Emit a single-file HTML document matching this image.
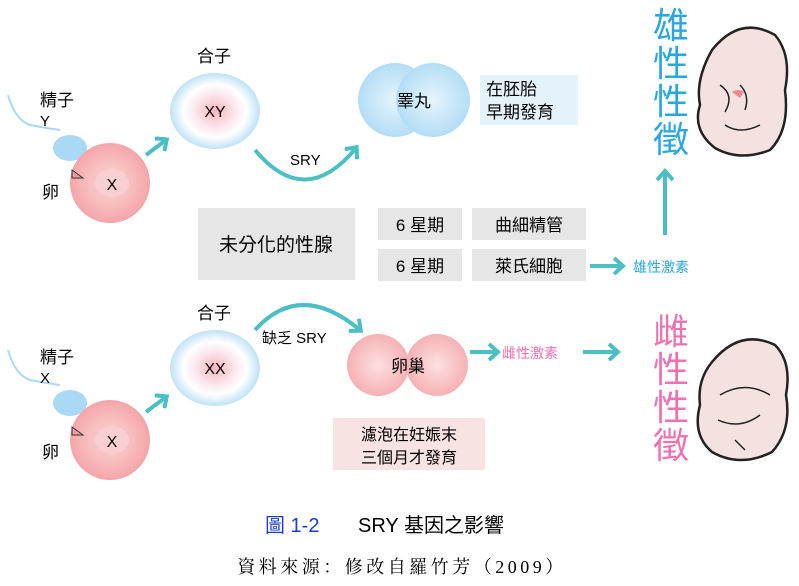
<!DOCTYPE html>
<html><head><meta charset="utf-8"><style>
body{margin:0;background:#fff;width:799px;height:581px;overflow:hidden;font-family:"Liberation Sans","Noto Sans CJK TC",sans-serif}
svg text{font-family:"Liberation Sans","Noto Sans CJK TC",sans-serif}
</style></head><body>
<svg width="799" height="581" viewBox="0 0 799 581">
<defs>
<radialGradient id="zy"><stop offset="0" stop-color="#f7b6bc"/><stop offset="0.45" stop-color="#fbe8ee"/><stop offset="0.7" stop-color="#ffffff"/><stop offset="1" stop-color="#bfe2f7"/></radialGradient>
<radialGradient id="egg"><stop offset="0" stop-color="#fbd3d4"/><stop offset="0.5" stop-color="#f8c0c2"/><stop offset="1" stop-color="#f4a5a9"/></radialGradient>
<radialGradient id="blu" cx="0.5" cy="0.5" r="0.6"><stop offset="0" stop-color="#e6f4fc"/><stop offset="1" stop-color="#a9d9f4"/></radialGradient>
<radialGradient id="pnk" cx="0.5" cy="0.5" r="0.6"><stop offset="0" stop-color="#fde0e1"/><stop offset="1" stop-color="#f4a8ab"/></radialGradient>
<marker id="ah" markerWidth="16" markerHeight="18" refX="9" refY="9" orient="auto" markerUnits="userSpaceOnUse"><path d="M1,1 L10,9 L1,17" fill="none" stroke="#4bbfc4" stroke-width="4"/></marker>
</defs>
<g stroke="#4bbfc4" stroke-width="4" fill="none" marker-end="url(#ah)">
<path d="M146,155 L166,140"/>
<path d="M146,412 L166,397"/>
<path d="M255,150 Q305,210 356,148"/>
<path d="M255,330 Q300,280 360,330"/>
<path d="M590,266 L622,266"/>
<path d="M665,235 L665,172"/>
<path d="M470,352 L497,352"/>
<path d="M583,352 L617,352"/>
</g>
<text x="197" y="62" font-size="17">合子</text>
<ellipse cx="215" cy="111" rx="45" ry="38" fill="url(#zy)"/>
<text x="215" y="117" font-size="16" text-anchor="middle">XY</text>
<path d="M8,95 Q15,120 30,125 Q45,128 60,130" stroke="#a9d9f4" stroke-width="2" fill="none"/>
<ellipse cx="70" cy="148" rx="17" ry="13" fill="#a9d9f4"/>
<text x="40" y="106" font-size="17">精子</text><text x="40" y="126" font-size="15">Y</text>
<circle cx="110" cy="183" r="40" fill="url(#egg)"/>
<ellipse cx="112" cy="183" rx="17" ry="14" fill="#f9cfd1"/>
<text x="112" y="190" font-size="16" text-anchor="middle">X</text>
<text x="42" y="198" font-size="17">卵</text>
<path d="M72,170 L83,178 L72,178Z" fill="#f39a9e" stroke="#333"/>
<text x="290" y="165" font-size="15">SRY</text>
<circle cx="395" cy="100" r="37" fill="url(#blu)"/><circle cx="433" cy="100" r="37" fill="url(#blu)"/>
<text x="414" y="107" font-size="17" text-anchor="middle">睪丸</text>
<rect x="480" y="75" width="98" height="50" fill="#e4f3fb"/>
<text x="486" y="95" font-size="17">在胚胎</text><text x="486" y="118" font-size="17">早期發育</text>
<rect x="198" y="208" width="157" height="72" fill="#e6e6e6"/>
<text x="276" y="251" font-size="19" text-anchor="middle">未分化的性腺</text>
<rect x="378" y="208" width="84" height="32" fill="#e6e6e6"/><rect x="378" y="249" width="84" height="32" fill="#e6e6e6"/>
<rect x="472" y="208" width="114" height="32" fill="#e6e6e6"/><rect x="472" y="249" width="114" height="32" fill="#e6e6e6"/>
<text x="420" y="231" font-size="17" text-anchor="middle">6 星期</text><text x="420" y="272" font-size="17" text-anchor="middle">6 星期</text>
<text x="529" y="231" font-size="17" text-anchor="middle">曲細精管</text><text x="529" y="272" font-size="17" text-anchor="middle">萊氏細胞</text>
<text x="633" y="272" font-size="14" fill="#2aa7e0">雄性激素</text>
<g font-size="36" fill="#2aa7e0" text-anchor="middle"><text x="671" y="38">雄</text><text x="671" y="76">性</text><text x="671" y="114">性</text><text x="671" y="152">徵</text></g>
<g font-size="36" fill="#f070b0" text-anchor="middle"><text x="671" y="344">雌</text><text x="671" y="382">性</text><text x="671" y="420">性</text><text x="671" y="458">徵</text></g>
<g stroke="#222" stroke-width="2.5" fill="#f3e2df" stroke-linejoin="round">
<path d="M712,50 Q740,15 775,35 Q792,55 785,90 Q790,130 770,150 Q740,162 715,148 Q692,130 700,105 Q695,80 712,50Z"/>
<path d="M712,362 Q740,328 775,345 Q792,362 786,395 Q792,430 772,452 Q740,468 712,452 Q692,435 700,405 Q697,380 712,362Z"/>
</g>
<g stroke="#222" stroke-width="1.5" fill="none">
<path d="M720,85 Q735,95 725,112"/><path d="M740,85 Q750,95 745,110"/><path d="M725,125 Q740,135 760,125"/>
<path d="M720,395 Q745,380 770,395"/><path d="M718,420 Q740,430 760,415"/><path d="M735,440 L745,450"/>
</g>
<path d="M732,92 Q738,88 744,92 L740,98Z" fill="#f08a8e"/>
<text x="197" y="319" font-size="17">合子</text>
<ellipse cx="215" cy="368" rx="45" ry="38" fill="url(#zy)"/>
<text x="215" y="374" font-size="16" text-anchor="middle">XX</text>
<path d="M8,350 Q15,375 30,380 Q45,383 60,385" stroke="#a9d9f4" stroke-width="2" fill="none"/>
<ellipse cx="70" cy="403" rx="17" ry="13" fill="#a9d9f4"/>
<text x="40" y="363" font-size="17">精子</text><text x="40" y="383" font-size="15">X</text>
<circle cx="110" cy="440" r="40" fill="url(#egg)"/>
<ellipse cx="112" cy="440" rx="17" ry="14" fill="#f9cfd1"/>
<text x="112" y="447" font-size="16" text-anchor="middle">X</text>
<text x="42" y="458" font-size="17">卵</text>
<path d="M72,427 L83,435 L72,435Z" fill="#f39a9e" stroke="#333"/>
<text x="262" y="343" font-size="15">缺乏 SRY</text>
<circle cx="378" cy="365" r="31" fill="url(#pnk)"/><circle cx="437" cy="365" r="31" fill="url(#pnk)"/>
<text x="408" y="372" font-size="17" text-anchor="middle">卵巢</text>
<text x="502" y="358" font-size="14" fill="#f070b0">雌性激素</text>
<rect x="333" y="418" width="152" height="52" fill="#f8e3e3"/>
<text x="409" y="440" font-size="16" text-anchor="middle">濾泡在妊娠末</text><text x="409" y="463" font-size="16" text-anchor="middle">三個月才發育</text>
<text x="265" y="532" font-size="20" fill="#1a3fd0">圖 1-2</text>
<text x="358" y="532" font-size="20">SRY 基因之影響</text>
<text x="402" y="573" font-size="18" letter-spacing="3.5" text-anchor="middle" style="font-family:'Liberation Serif','Noto Serif CJK SC',serif">資料來源：修改自羅竹芳（2009）</text>
</svg>
</body></html>
